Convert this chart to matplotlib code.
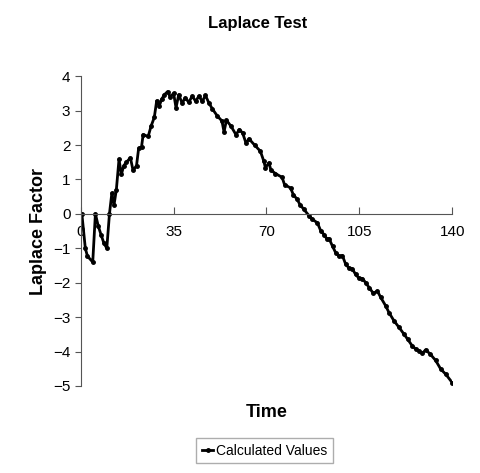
import matplotlib
matplotlib.use('agg')
from matplotlib import pyplot as plt
plt.rcParams['font.family'] = ['Liberation Sans', 'DejaVu Sans']

time = [0.4, 1.7, 2.5, 4.5, 5.5, 6.6, 7.6, 8.7, 9.8, 10.8, 11.7, 12.5, 13.4, 14.4, 15.3,
        16.2, 17.2, 18.7, 19.7, 21, 21.8, 22.9, 23.5, 25.4, 26.5, 27.7, 28.6, 29.6, 30.5,
        31.5, 32.7, 33.7, 35, 35.9, 36.9, 38.2, 39.4, 40.7, 42, 43.3, 44.5, 45.8, 47,
        48.3, 49.6, 51.5, 53.2, 54, 54.9, 56.6, 58.5, 59.8, 61, 62.3, 63.4, 65.5, 67.7,
        69, 69.6, 70.9, 71.7, 73.4, 75.9, 76.8, 79.1, 80.1, 81.6, 82.6, 84.1, 86, 87.3,
        89.2, 90.5, 91.7, 92.7, 93.6, 94.9, 96.1, 97.4, 98.6, 99.9, 101.1, 102.4, 103.6,
        104.9, 106.2, 107.4, 108.7, 110.3, 111.8, 113.1, 115, 116.2, 118.1, 120, 121.9,
        123.2, 125, 126.3, 127.5, 128.8, 130, 131.7, 133.8, 135.7, 137.6, 140]
laplace = [0, -1.0, -1.23, -1.4, 0, -0.36, -0.6, -0.85, -1.0, 0, 0.6, 0.25, 0.7, 1.58, 1.15,
           1.4, 1.5, 1.63, 1.26, 1.4, 1.9, 1.95, 2.3, 2.25, 2.55, 2.8, 3.28, 3.14, 3.33,
           3.46, 3.55, 3.4, 3.5, 3.08, 3.46, 3.22, 3.37, 3.24, 3.42, 3.27, 3.42, 3.27, 3.44,
           3.22, 3.05, 2.84, 2.7, 2.38, 2.72, 2.55, 2.3, 2.45, 2.35, 2.05, 2.18, 2.0, 1.82,
           1.53, 1.34, 1.48, 1.27, 1.17, 1.06, 0.85, 0.75, 0.56, 0.42, 0.27, 0.13, -0.05, -0.16,
           -0.26, -0.5, -0.6, -0.72, -0.72, -0.94, -1.13, -1.23, -1.21, -1.47, -1.57, -1.6, -1.76,
           -1.87, -1.88, -2.0, -2.14, -2.31, -2.24, -2.43, -2.68, -2.87, -3.11, -3.3, -3.5,
           -3.64, -3.84, -3.93, -3.98, -4.05, -3.95, -4.07, -4.26, -4.51, -4.66, -4.9]

fig = plt.figure(figsize=(4.81, 4.73), dpi=100)
ax = fig.add_axes([0.168, 0.184, 0.772, 0.655])
ax.plot(time, laplace, color='black', lw=2, marker='o', ms=2.5, label='Calculated Values')
ax.set_xlim(0, 140)
ax.set_ylim(-5, 4)
ax.set_xticks([0, 35, 70, 105, 140])
ax.set_yticks(range(-5, 5))
ax.spines['bottom'].set_position(('data', 0))
ax.spines['top'].set_visible(False)
ax.spines['right'].set_visible(False)
for s in ('left', 'bottom'):
    ax.spines[s].set_color('#555555')
ax.tick_params(axis='x', direction='in', length=5, labelsize=11, pad=8, color='#555555')
ax.tick_params(axis='y', direction='out', length=4, labelsize=11, color='#555555')

fig.text(0.535, 0.94, 'Laplace Test', ha='center', fontsize=12, fontweight='bold')
fig.text(0.555, 0.118, 'Time', ha='center', fontsize=13, fontweight='bold')
fig.text(0.062, 0.51, 'Laplace Factor', va='center', rotation=90, fontsize=13, fontweight='bold')

leg = fig.legend(loc='center', bbox_to_anchor=(0.55, 0.047), fontsize=10, frameon=True,
                 fancybox=False, edgecolor='#999999', handlelength=0.8, handletextpad=0.2,
                 markerscale=1)
fig.savefig('out.png', dpi=100)
